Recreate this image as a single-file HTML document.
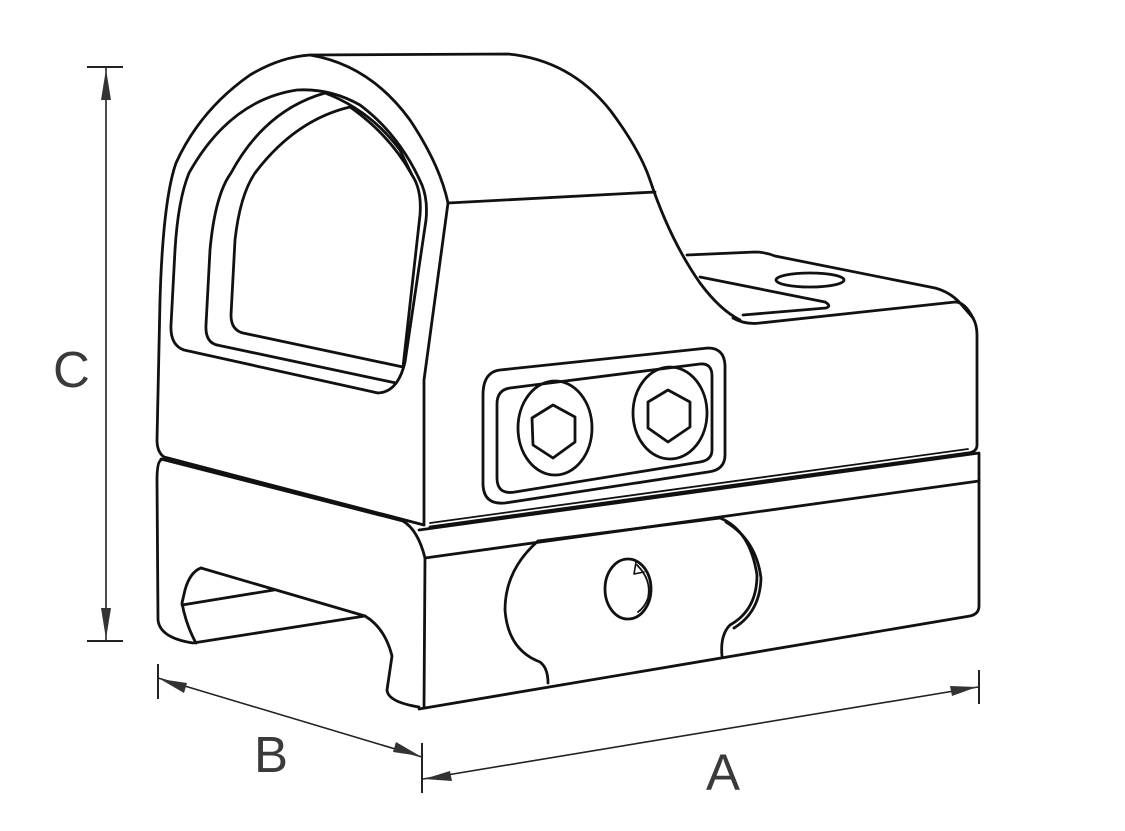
<!DOCTYPE html>
<html><head><meta charset="utf-8"><style>
html,body{margin:0;padding:0;background:#fff}
svg{display:block}
text{font-family:"Liberation Sans","DejaVu Sans",sans-serif;fill:#3a3a3a}
</style></head><body>
<svg width="1125" height="831" viewBox="0 0 1125 831" xmlns="http://www.w3.org/2000/svg">
<g fill="none" stroke="#111" stroke-width="2.8" stroke-linejoin="round" stroke-linecap="round">
<path d="M164,457 Q157,452 157,440 L160,300 Q163,200 176,163 Q200,110 250,75 Q280,57 310,55 L508,54 Q570,60 610,110 Q640,150 650,180 Q670,240 700,283 Q720,310 740,320"/>
<path d="M310,55 Q370,65 410,120 Q440,165 448,203 L424,380 L424,525"/>
<path d="M448,203 L655,192"/>
<path d="M164,457 L424,525"/>
<path d="M189,173 Q230,100 297,90 Q330,88 360,105 Q400,135 422,185 Q428,200 426,220 L405,362 Q398,392 378,393 L184,350 Q170,345 171,325 L175,250 Q178,200 189,173 Z"/>
<path d="M217,345 Q205,342 206,325 L210,250 Q215,195 231,173 Q265,110 325,93 Q370,110 400,150 L412,175"/>
<path d="M412,175 Q422,190 420,215 L403,367 L243,333 Q231,330 231,315 L235,240 Q240,195 255,173 Q295,120 350,107 Q390,135 412,175"/>
<path d="M217,345 L396,383"/>
<path d="M500,370 L708,348 Q724,348 725,365 L725,455 Q725,470 708,472 L505,503 Q484,505 483,485 L483,395 Q483,372 500,370 Z"/>
<path d="M510,388 L700,364 Q712,363 712,376 L712,450 Q712,460 700,462 L515,492 Q497,495 497,478 L497,404 Q497,390 510,388 Z"/>
<ellipse cx="555" cy="428" rx="37" ry="47"/>
<polygon points="553,405 575,417 575,442 553,458 533,445 532,418"/>
<ellipse cx="670" cy="413" rx="37" ry="46"/>
<polygon points="668,390 690,402 690,427 668,442 648,428 648,402"/>
<path d="M687,255 L755,252 Q765,252 775,256 L935,288 Q950,292 960,303 L973,318 Q977,325 977,335 L977,445 Q977,452 968,453 L430,527"/>
<path d="M733,318 Q745,325 760,323 L955,302 Q965,302 973,318"/>
<path d="M700,277 L825,302 Q832,306 826,308 L743,315"/>
<ellipse cx="810" cy="280" rx="34" ry="7"/>
<path d="M430,523 L968,449" stroke-width="1.8"/>
<path d="M161,460 Q157,462 157,480 L158,620 Q160,638 193,643 L365,616"/>
<path d="M161,459 L403,521 Q418,530 425,558"/>
<path d="M201,568 Q190,572 185,590 L182,603 Q186,625 196,643"/>
<path d="M201,568 L365,616 Q385,628 392,656 L387,690 Q388,702 419,707"/>
<path d="M182,605 L274,590"/>
<path d="M419,530 L979,453 L979,606 Q979,614 970,616 L419,709"/>
<path d="M425,558 L979,481"/>
<path d="M425,558 L424,707"/>
<path d="M538,541 Q505,570 505,610 Q508,650 540,662 Q548,668 548,683"/>
<path d="M538,541 L720,518 Q750,530 757,575 Q757,610 730,625 Q720,635 722,656"/>
<path d="M726,522 Q756,540 761,578 Q760,612 734,628"/>
<ellipse cx="628" cy="589" rx="23" ry="30"/>
<path d="M637,565 Q652,580 648,598 Q645,607 638,612" stroke-width="1.8"/>
<path d="M636,562 L634,574 L644,572" stroke-width="1.6"/>
</g>
<g stroke="#222" stroke-width="2" fill="none">
<line x1="87" y1="67" x2="123" y2="67"/>
<line x1="87" y1="641" x2="123" y2="641"/>
<line x1="106" y1="67" x2="106" y2="641" stroke-width="1.6"/>
<line x1="158" y1="664" x2="158" y2="699"/>
<line x1="422" y1="743" x2="422" y2="793"/>
<line x1="158" y1="678" x2="422" y2="757" stroke-width="1.6"/>
<line x1="979" y1="670" x2="979" y2="704"/>
<line x1="423" y1="779" x2="978" y2="687" stroke-width="1.6"/>
</g>
<g fill="#333">
<polygon points="106,69 101,100 111,100"/>
<polygon points="106,639 101,608 111,608"/>
<polygon points="160,679 187,683 184,693"/>
<polygon points="420,756 393,752 396,742"/>
<polygon points="424,779 450,771 452,781"/>
<polygon points="977,687 950,686 952,696"/>
</g>
<text x="53" y="387" font-size="51">C</text>
<text x="254" y="772" font-size="51">B</text>
<text x="706" y="790" font-size="51">A</text>
</svg>
</body></html>
